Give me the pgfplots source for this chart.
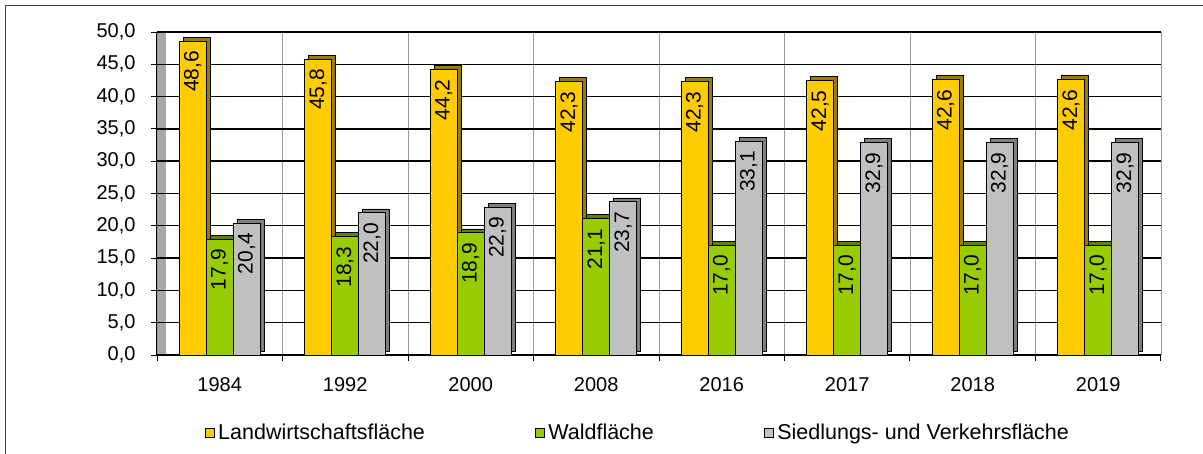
\documentclass[border=0pt]{standalone}
\usepackage{fontspec}
\setmainfont{Liberation Sans}
\usepackage{pgfplots}
\usepackage{pgfplotstable}
\pgfplotsset{compat=1.18}

\definecolor{agri}{HTML}{FFCC00}
\definecolor{agriside}{HTML}{9C7C00}
\definecolor{wald}{HTML}{99CC00}
\definecolor{waldside}{HTML}{5F8000}
\definecolor{sied}{HTML}{C0C0C0}
\definecolor{siedside}{HTML}{7F7F7F}
\definecolor{wall}{HTML}{A8A8A8}

% Anteile in Prozent, x = Kategorieindex
\pgfplotstableread{
x  agri  wald  sied
0  48.6  17.9  20.4
1  45.8  18.3  22.0
2  44.2  18.9  22.9
3  42.3  21.1  23.7
4  42.3  17.0  33.1
5  42.5  17.0  32.9
6  42.6  17.0  32.9
7  42.6  17.0  32.9
}\flaechen

\pgfplotsset{
  side/.style={forget plot, draw=black, line width=0.7pt, xshift=4pt, yshift=4pt},
  front/.style={draw=black, line width=0.9pt,
    nodes near coords,
    every node near coord/.append style={rotate=90, anchor=east, inner xsep=9.5pt,
      font=\fontsize{21}{24}\selectfont, text=black}},
}

\begin{document}
\begin{tikzpicture}
\useasboundingbox (0,0) rectangle (1203pt,454pt);
\draw[line width=1pt, black!75] (5.5pt,0) -- (5.5pt,448pt) -- (1203pt,448pt);
\begin{axis}[
    at={(157pt,99pt)}, anchor=south west,
    width=1004pt, height=323pt, scale only axis,
    axis background/.style={fill=white, path picture={
      \fill[wall] (path picture bounding box.south west) rectangle
        ([xshift=9pt]path picture bounding box.north west);}},
    ybar, bar width=27pt,
    xmin=-0.5, xmax=7.5,
    ymin=0, ymax=50,
    axis lines=left,
    axis line style={-, line width=1pt},
    xtick={0,...,7},
    xticklabels={1984,1992,2000,2008,2016,2017,2018,2019},
    major x tick style={draw=none},
    minor xtick={-0.5,0.5,...,7.5},
    ytick={0,5,...,50},
    tick align=outside,
    major tick length=6pt, minor tick length=6pt,
    tick style={black, line width=0.9pt},
    ymajorgrids, xminorgrids,
    major grid style={black, line width=1.4pt},
    minor grid style={gray!80, line width=0.8pt},
    tick label style={font=\fontsize{20}{24}\selectfont},
    xticklabel style={yshift=-13pt},
    yticklabel style={xshift=-12pt},
    /pgf/number format/.cd, fixed, fixed zerofill, precision=1, use comma,
      1000 sep={}, assume math mode=true,
    /pgfplots/.cd,
    legend style={at={(0.479,-0.241)}, anchor=center, draw=none, fill=none,
      font=\fontsize{21.5}{24}\selectfont},
    legend columns=3,
    legend image code/.code={\draw[#1, draw=black, line width=1.4pt] (0pt,-4.5pt) rectangle (9pt,4.5pt);},
    legend style={/tikz/every odd column/.append style={column sep=1pt},
                  /tikz/every even column/.append style={column sep=108pt}},
]
\addplot[side, fill=agriside, bar shift=-27pt] table[x=x, y=agri] {\flaechen};
\addplot[front, fill=agri, bar shift=-27pt] table[x=x, y=agri] {\flaechen};
\addlegendentry{Landwirtschaftsfläche}

\addplot[side, fill=waldside, bar shift=0pt] table[x=x, y=wald] {\flaechen};
\addplot[front, fill=wald, bar shift=0pt] table[x=x, y=wald] {\flaechen};
\addlegendentry{Waldfläche}

\addplot[side, fill=siedside, bar shift=27pt] table[x=x, y=sied] {\flaechen};
\addplot[front, fill=sied, bar shift=27pt] table[x=x, y=sied] {\flaechen};
\addlegendentry{Siedlungs- und Verkehrsfläche}
\end{axis}
\end{tikzpicture}
\end{document}
